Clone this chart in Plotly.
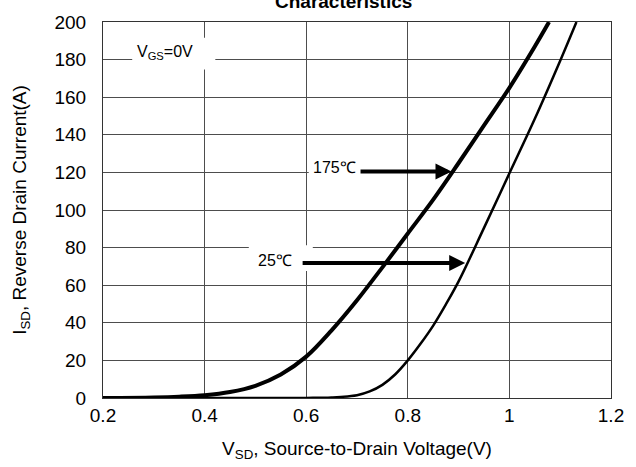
import plotly.graph_objects as go

# Data
v_175 = [0.20, 0.30, 0.35, 0.40, 0.45, 0.50, 0.55, 0.60, 0.65, 0.70, 0.75, 0.80, 0.85, 0.90, 0.95, 1.00, 1.05, 1.078]
i_175 = [0.0, 0.3, 0.7, 1.5, 3.2, 6.5, 12.5, 22.0, 36.0, 52.0, 69.5, 87.5, 105.5, 125.0, 145.0, 165.0, 187.0, 200.0]

v_25 = [0.20, 0.50, 0.60, 0.65, 0.70, 0.725, 0.75, 0.775, 0.80, 0.825, 0.85, 0.875, 0.90, 0.95, 1.00, 1.05, 1.10, 1.132]
i_25 = [0.0, 0.0, 0.05, 0.3, 1.5, 3.5, 7.0, 12.5, 20.0, 28.8, 38.5, 49.8, 62.0, 90.5, 119.5, 148.5, 179.4, 200.0]

x_ticks = [0.2, 0.4, 0.6, 0.8, 1.0, 1.2]
x_tick_text = ["0.2", "0.4", "0.6", "0.8", "1", "1.2"]
y_ticks = [0, 20, 40, 60, 80, 100, 120, 140, 160, 180, 200]

FONT = "Arial, Liberation Sans, sans-serif"

fig = go.Figure()
fig.add_trace(go.Scatter(x=v_175, y=i_175, mode="lines", line=dict(color="black", width=4, shape="spline", smoothing=1.0),
                         showlegend=False, hoverinfo="skip"))
fig.add_trace(go.Scatter(x=v_25, y=i_25, mode="lines", line=dict(color="black", width=2.5, shape="spline", smoothing=1.0),
                         showlegend=False, hoverinfo="skip"))

# white patches behind labels (between gridlines and traces)
for x0, x1, y0, y1 in [(0.2575, 0.4211, 174.7, 191.6), (0.605, 0.708, 115.5, 126.5), (0.487, 0.613, 67.5, 81.3)]:
    fig.add_shape(type="rect", x0=x0, x1=x1, y0=y0, y1=y1, xref="x", yref="y",
                  fillcolor="white", line=dict(width=0), layer="between")

annotations = [
    dict(x=0.3217, y=183.8, text="V<sub>GS</sub>=0V", showarrow=False, font=dict(family=FONT, size=16, color="black")),
    dict(x=0.655, y=122.4, text="175℃", showarrow=False, font=dict(family=FONT, size=16, color="black")),
    dict(x=0.538, y=73.0, text="25℃", showarrow=False, font=dict(family=FONT, size=16, color="black")),
    dict(x=0.886, y=120.5, ax=0.704, ay=120.5, axref="x", ayref="y", xref="x", yref="y", text="",
         showarrow=True, arrowhead=2, arrowsize=0.8, arrowwidth=4, arrowcolor="black", standoff=0),
    dict(x=0.913, y=71.8, ax=0.590, ay=71.8, axref="x", ayref="y", xref="x", yref="y", text="",
         showarrow=True, arrowhead=2, arrowsize=0.8, arrowwidth=4, arrowcolor="black", standoff=0),
    dict(x=0.473, y=1.021, xref="paper", yref="paper", yanchor="bottom", text="<b>Characteristics</b>",
         showarrow=False, font=dict(family=FONT, size=19, color="black")),
]

fig.update_layout(
    width=636, height=467,
    margin=dict(l=103, r=17, t=21, b=67),
    paper_bgcolor="white", plot_bgcolor="white",
    font=dict(family=FONT, size=19, color="black"),
    annotations=annotations,
    xaxis=dict(range=[0.2, 1.2], tickvals=x_ticks, ticktext=x_tick_text, showgrid=True,
               gridcolor="#4d4d4d", gridwidth=1, showline=True, linecolor="#333333", linewidth=1,
               mirror=True, ticks="", zeroline=False, tickfont=dict(size=19),
               title=dict(text="V<sub>SD</sub>, Source-to-Drain Voltage(V)", font=dict(size=19), standoff=16)),
    yaxis=dict(range=[0, 200], tickvals=y_ticks, showgrid=True, gridcolor="#4d4d4d", gridwidth=1,
               showline=True, linecolor="#333333", linewidth=1, mirror=True, ticks="", zeroline=False,
               tickfont=dict(size=19), ticklabelstandoff=12,
               title=dict(text="I<sub>SD</sub>, Reverse Drain Current(A)", font=dict(size=19), standoff=22)),
)

fig.write_html("out.html")
